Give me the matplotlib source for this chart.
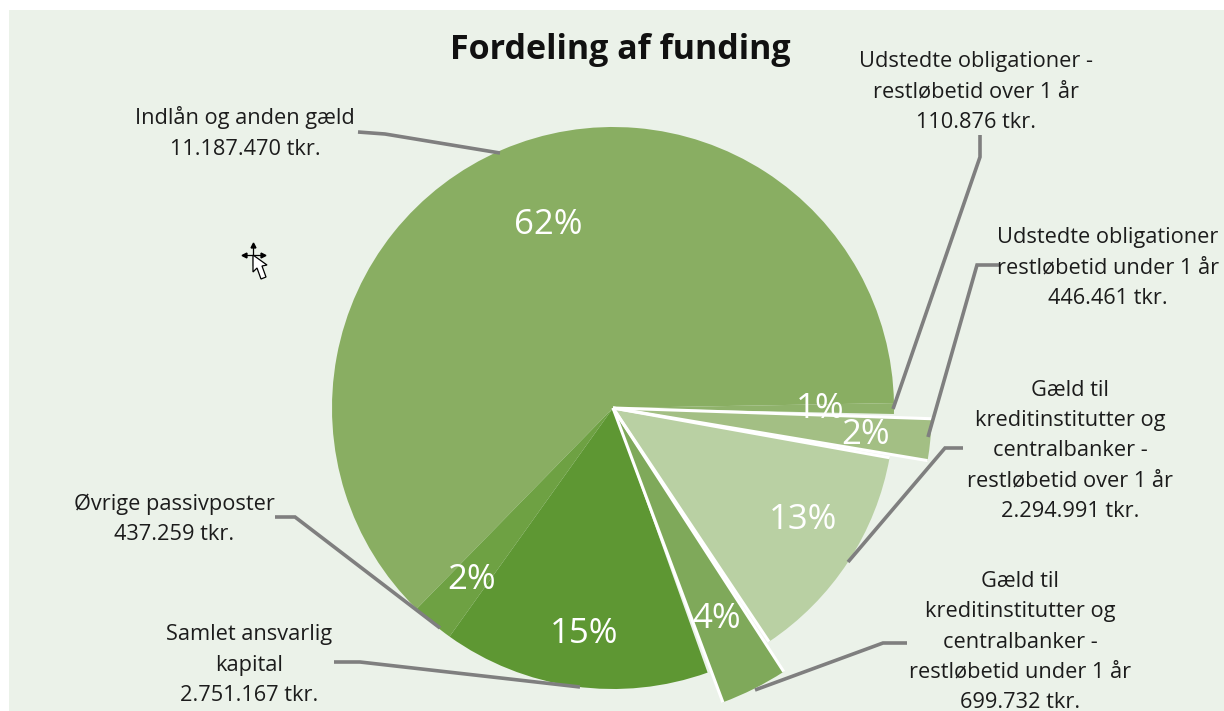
import numpy as np
import matplotlib
matplotlib.use("Agg")
import matplotlib.pyplot as plt
from matplotlib.patches import Rectangle, Polygon

# Data
title = "Fordeling af funding"
categories = ["Indlån og anden gæld\n11.187.470 tkr.",
              "Øvrige passivposter\n437.259 tkr.",
              "Samlet ansvarlig\nkapital\n2.751.167 tkr.",
              "Gæld til\nkreditinstitutter og\ncentralbanker -\nrestløbetid under 1 år\n699.732 tkr.",
              "Gæld til\nkreditinstitutter og\ncentralbanker -\nrestløbetid over 1 år\n2.294.991 tkr.",
              "Udstedte obligationer\nrestløbetid under 1 år\n446.461 tkr.",
              "Udstedte obligationer -\nrestløbetid over 1 år\n110.876 tkr."]
values = [11187470, 437259, 2751167, 699732, 2294991, 446461, 110876]

# Styles / layout (pixels of the 1224x711 picture)
colors = ["#89AE62", "#6EA143", "#5E9733", "#7FA95A", "#B9D0A3", "#A3BF84", "#8FB26B"]
W, H = 1224, 711
CX, CY, R = 613, 408, 281
slice_radius = [1, 1, 1, 1.118, 1.0, 1.135, 1]
inset_deg = [0, 0, 0, 0.8, 0, 0.7, 0]
white_edge = [False, False, False, True, True, True, False]
pct_pos = [(548, 225), (472, 580), (584, 634), (717, 619), (803, 520), (866, 435), (820, 409)]
label_pos = [(245, 133), (174, 519), (249, 665), (1020, 642), (1070, 451), (1108, 268), (976, 92)]
leaders = [[(358, 132), (385, 134), (500, 153)],
           [(275, 517), (295, 517), (440, 628)],
           [(334, 662), (360, 662), (580, 687)],
           [(907, 643), (883, 643), (755, 690)],
           [(963, 448), (945, 448), (848, 562)],
           [(1000, 265), (977, 265), (928, 437)],
           [(980, 135), (980, 157), (893, 409)]]

plt.rcParams['font.family'] = ['Open Sans', 'DejaVu Sans']
fig = plt.figure(figsize=(W / 100, H / 100), dpi=100, facecolor="white")
ax = fig.add_axes([0, 0, 1, 1])
py = lambda y: H - y

ax.add_patch(Rectangle((9, 0), W - 9, H - 10, facecolor="#EBF2E9", edgecolor="none", zorder=0))

wedges, _, autotexts = ax.pie(values, startangle=1, counterclock=True, colors=colors,
                              center=(CX, py(CY)), radius=R,
                              autopct=lambda p: f"{p:.0f}%",
                              textprops=dict(color="white", fontsize=25))
for w, k, ins, edged in zip(wedges, slice_radius, inset_deg, white_edge):
    w.set_radius(R * k)
    w.set_theta1(w.theta1 + ins)
    w.set_theta2(w.theta2 - ins)
    w.set_zorder(3 if edged else 2)
    if edged:
        for th in (w.theta1, w.theta2):
            a = np.deg2rad(th)
            ax.plot([CX, CX + R * k * np.cos(a)], [py(CY), py(CY) + R * k * np.sin(a)],
                    color="white", lw=2.2, solid_capstyle="butt", zorder=4)
for t, (x, y) in zip(autotexts, pct_pos):
    t.set_position((x, py(y)))
    t.set_ha("center")
    t.set_va("center")
    t.set_zorder(6)

for pts in leaders:
    ax.plot([p[0] for p in pts], [py(p[1]) for p in pts], color="#7F7F7F", lw=2.6,
            solid_joinstyle="miter", solid_capstyle="butt", zorder=5)

for lab, (x, y) in zip(categories, label_pos):
    ax.text(x, py(y), lab, ha="center", va="center", fontsize=15.7, color="#1c1c1c",
            linespacing=1.58, zorder=6)

ax.text(620, py(50), title, ha="center", va="center", fontsize=24.5, fontweight="bold",
        color="#111111", zorder=6)

# mouse cursor in the reference
cx, cy = 253, 255
ax.plot([cx - 10, cx + 11], [py(cy)] * 2, color="black", lw=0.9, zorder=7)
ax.plot([cx] * 2, [py(cy - 10), py(cy + 10)], color="black", lw=0.9, zorder=7)
for mx, my, mk in [(cx - 9, cy, "<"), (cx + 10, cy, ">"), (cx, cy - 10, "^")]:
    ax.plot([mx], [py(my)], marker=mk, ms=3.5, color="black", zorder=7)
arrow = [(253, 255), (253, 272), (257, 268), (261, 279), (266, 277), (262, 266), (267, 265)]
ax.add_patch(Polygon([(x, py(y)) for x, y in arrow], closed=True, facecolor="white",
                     edgecolor="black", lw=0.9, zorder=8))

ax.set_xlim(0, W)
ax.set_ylim(0, H)
ax.set_aspect("auto")
ax.axis("off")
fig.savefig("out.png", dpi=100, facecolor="white")
